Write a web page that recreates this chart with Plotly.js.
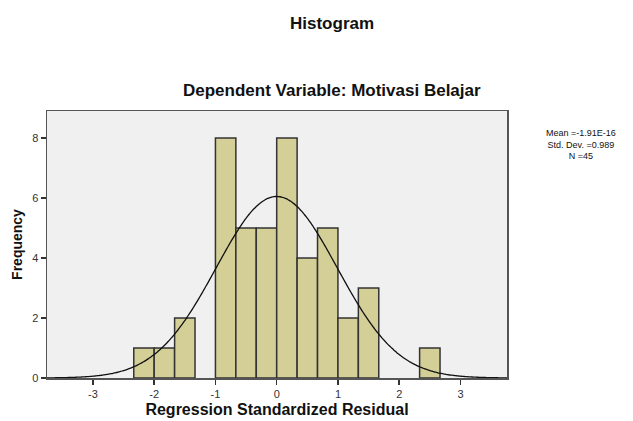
<!DOCTYPE html>
<html>
<head>
<meta charset="utf-8">
<script src="https://cdn.plot.ly/plotly-3.0.1.min.js"></script>
<style>html,body{margin:0;padding:0;background:#fff;}#chart{width:633px;height:421px;}</style>
</head>
<body>
<div id="chart"></div>
<script>
// Bin centres (bin width 1/3) and frequencies
var binCenters = [-2.1667, -1.8333, -1.5, -0.8333, -0.5, -0.1667, 0.1667, 0.5, 0.8333, 1.1667, 1.5, 2.5];
var frequencies = [1, 1, 2, 8, 5, 5, 8, 4, 5, 2, 3, 1];
var binWidth = [1/3];
// Summary statistics printed on the chart
var statMean = [-1.91e-16];
var statSD = [0.989];
var statN = [45];
var statLines = ['Mean =-1.91E-16', 'Std. Dev. =0.989', 'N =45'];
var xTicks = [-3, -2, -1, 0, 1, 2, 3];
var yTicks = [0, 2, 4, 6, 8];

// Normal curve implied by the printed mean / sd / N
var curveX = [], curveY = [];
for (var i = 0; i <= 300; i++) {
  var x = -3.75 + 7.51 * i / 300;
  var z = (x - statMean[0]) / statSD[0];
  curveX.push(x);
  curveY.push(statN[0] * binWidth[0] * Math.exp(-0.5 * z * z) / (statSD[0] * Math.sqrt(2 * Math.PI)));
}

var font = "Liberation Sans, Arial, sans-serif";
var traces = [
  {type: 'bar', x: binCenters, y: frequencies, width: binWidth[0],
   marker: {color: '#d3cf97', line: {color: '#333333', width: 1.5}},
   hoverinfo: 'x+y', showlegend: false},
  {type: 'scatter', mode: 'lines', x: curveX, y: curveY,
   line: {color: '#111111', width: 1.3, shape: 'spline'}, hoverinfo: 'skip', showlegend: false}
];

var titleX = (332 - 47) / 460;
var annotations = [
  {xref: 'paper', yref: 'paper', x: titleX, y: 1, yshift: 88, xanchor: 'center', yanchor: 'middle',
   text: '<b>Histogram</b>', showarrow: false, font: {size: 17, color: '#111', family: font}},
  {xref: 'paper', yref: 'paper', x: titleX, y: 1, yshift: 21, xanchor: 'center', yanchor: 'middle',
   text: '<b>Dependent Variable: Motivasi Belajar</b>', showarrow: false, font: {size: 17, color: '#111', family: font}},
  {xref: 'paper', yref: 'paper', x: 1, xshift: 74, y: 1, yshift: -33, xanchor: 'center', yanchor: 'middle',
   text: statLines.join('<br>'), showarrow: false, align: 'center',
   font: {size: 9, color: '#111', family: font}}
];

var layout = {
  width: 633, height: 421,
  margin: {l: 47, r: 126, t: 111, b: 43},
  paper_bgcolor: '#ffffff', plot_bgcolor: '#f0f0f0',
  font: {family: font, color: '#222'},
  bargap: 0,
  xaxis: {range: [-3.75, 3.76], tickvals: xTicks, ticktext: xTicks.map(String),
    ticks: 'outside', ticklen: 5, tickcolor: '#333', tickwidth: 1.5,
    showgrid: false, zeroline: false, showline: true, linecolor: '#555', linewidth: 1.5, mirror: true,
    tickfont: {size: 11, color: '#333', family: font},
    title: {text: '<b>Regression Standardized Residual</b>', font: {size: 16, color: '#111', family: font}, standoff: 5}},
  yaxis: {range: [0, 8.9], tickvals: yTicks, ticktext: yTicks.map(String),
    ticks: 'outside', ticklen: 5, tickcolor: '#333', tickwidth: 1.5,
    showgrid: false, zeroline: false, showline: true, linecolor: '#555', linewidth: 1.5, mirror: true,
    tickfont: {size: 11, color: '#333', family: font},
    title: {text: '<b>Frequency</b>', font: {size: 14, color: '#111', family: font}, standoff: 6}},
  annotations: annotations
};
Plotly.newPlot('chart', traces, layout, {displayModeBar: false, staticPlot: true});
</script>
</body>
</html>
